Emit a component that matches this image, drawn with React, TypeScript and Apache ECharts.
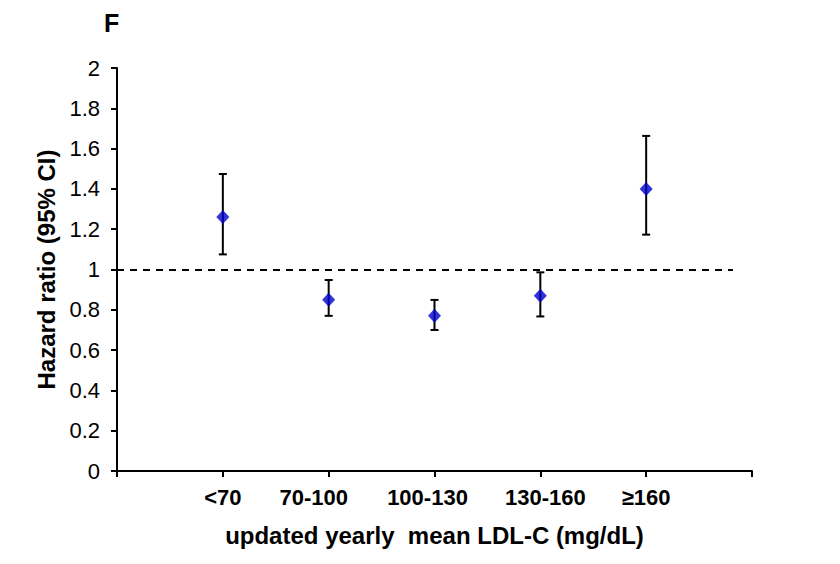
import React, { useEffect, useRef } from "react";
import * as echarts from "echarts";

const categories = ["<70", "70-100", "100-130", "130-160", "≥160"];
const hazardRatio = [1.26, 0.85, 0.77, 0.87, 1.4];
const ciLower = [1.075, 0.77, 0.7, 0.767, 1.173];
const ciUpper = [1.474, 0.948, 0.849, 0.986, 1.663];
const yTicks = [0, 0.2, 0.4, 0.6, 0.8, 1, 1.2, 1.4, 1.6, 1.8, 2];
const referenceLine = 1;

// horizontal nudges of the category labels relative to their ticks (px)
const labelShift = [0, -15, -7, 5, 0];

const FONT = "'Liberation Sans', Arial, sans-serif";

export default function App() {
  const ref = useRef<HTMLDivElement>(null);
  useEffect(() => {
    if (!ref.current) return;
    const chart = echarts.init(ref.current, null, { renderer: "svg" });
    const positions = categories.map((_, i) => i + 1);
    const pointData = positions.map((x, i) => [x, hazardRatio[i]]);
    const errData = positions.map((x, i) => [x, ciLower[i], ciUpper[i]]);
    const rich: Record<string, any> = {};
    labelShift.forEach((s, i) => {
      rich["c" + i] = {
        fontFamily: FONT,
        fontSize: 22,
        fontWeight: "bold",
        color: "#000",
        padding: [0, s < 0 ? -2 * s : 0, 0, s > 0 ? 2 * s : 0],
      };
    });
    chart.setOption({
      animation: false,
      backgroundColor: "#ffffff",
      title: {
        text: "F",
        left: 99,
        top: 5,
        textStyle: { fontFamily: FONT, fontSize: 25, fontWeight: "bold", color: "#000" },
      },
      grid: { left: 117, right: 88, top: 68, bottom: 93 },
      xAxis: {
        type: "value",
        min: 0,
        max: categories.length + 1,
        interval: 1,
        name: "updated yearly  mean LDL-C (mg/dL)",
        nameLocation: "middle",
        nameGap: 52,
        nameTextStyle: { fontFamily: FONT, fontSize: 24, fontWeight: "bold", color: "#000" },
        splitLine: { show: false },
        axisLine: { lineStyle: { color: "#000", width: 2 } },
        axisTick: { show: true, length: 6, inside: false, lineStyle: { color: "#000", width: 2 } },
        axisLabel: {
          margin: 15,
          fontFamily: FONT,
          fontSize: 22,
          fontWeight: "bold",
          color: "#000",
          rich,
          formatter: (v: number) => {
            const i = Math.round(v) - 1;
            return i >= 0 && i < categories.length ? `{c${i}|${categories[i]}}` : "";
          },
        },
      },
      yAxis: {
        type: "value",
        min: yTicks[0],
        max: yTicks[yTicks.length - 1],
        interval: 0.2,
        name: "Hazard ratio (95% CI)",
        nameLocation: "middle",
        nameGap: 55,
        nameTextStyle: { fontFamily: FONT, fontSize: 24, fontWeight: "bold", color: "#000" },
        splitLine: { show: false },
        axisLine: { show: true, lineStyle: { color: "#000", width: 2 } },
        axisTick: { show: true, length: 6, inside: false, lineStyle: { color: "#000", width: 2 } },
        axisLabel: {
          margin: 17,
          fontFamily: FONT,
          fontSize: 22,
          color: "#000",
          formatter: (v: number) => String(Math.round(v * 10) / 10),
        },
      },
      series: [
        {
          type: "custom",
          data: errData,
          z: 2,
          renderItem: (params: any, api: any) => {
            const x = api.value(0);
            const lo = api.coord([x, api.value(1)]);
            const hi = api.coord([x, api.value(2)]);
            const cap = 4;
            const style = { stroke: "#000", lineWidth: 2 };
            return {
              type: "group",
              children: [
                { type: "line", shape: { x1: lo[0], y1: lo[1], x2: hi[0], y2: hi[1] }, style },
                { type: "line", shape: { x1: lo[0] - cap, y1: lo[1], x2: lo[0] + cap, y2: lo[1] }, style },
                { type: "line", shape: { x1: hi[0] - cap, y1: hi[1], x2: hi[0] + cap, y2: hi[1] }, style },
              ],
            };
          },
        },
        {
          type: "scatter",
          data: pointData,
          symbol: "diamond",
          symbolSize: [13, 14],
          z: 3,
          itemStyle: { color: "#0000CC" },
          markLine: {
            silent: true,
            symbol: "none",
            label: { show: false },
            lineStyle: { color: "#000", type: [7, 6], width: 2 },
            data: [[{ coord: [0, referenceLine] }, { coord: [5.82, referenceLine] }]],
          },
        },
      ],
    });
    return () => chart.dispose();
  }, []);
  return (
    <div
      ref={ref}
      style={{ position: "fixed", left: 0, top: 0, width: 840, height: 564 }}
    />
  );
}
